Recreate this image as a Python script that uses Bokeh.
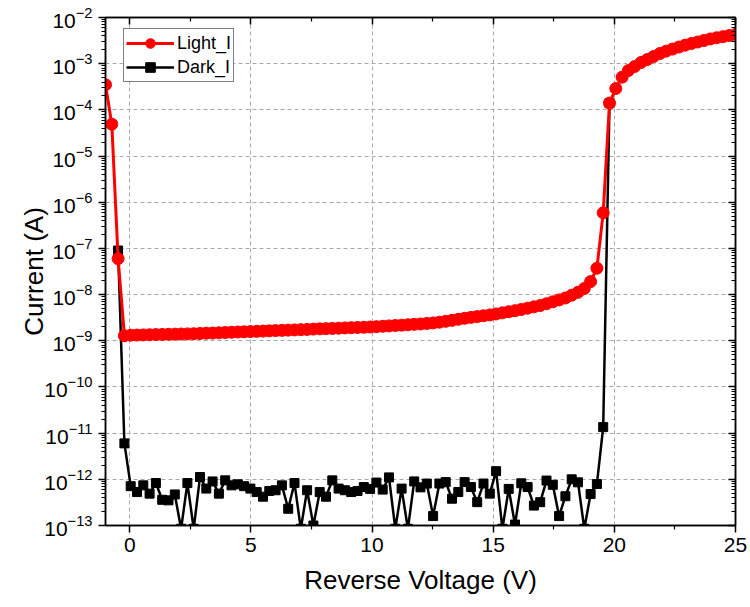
from bokeh.plotting import figure
from bokeh.models import (FixedTicker, LinearAxis, LogAxis, Legend, LegendItem,
                          ColumnDataSource, Range1d)
from bokeh.embed import file_html
from bokeh.resources import INLINE

NaN = float("nan")

# Reverse voltage (V)
voltage = [-1.0, -0.74, -0.48, -0.22, 0.04, 0.3, 0.56, 0.82, 1.08, 1.34,
           1.6, 1.86, 2.12, 2.38, 2.64, 2.9, 3.16, 3.42, 3.68, 3.94,
           4.2, 4.46, 4.72, 4.98, 5.24, 5.5, 5.76, 6.02, 6.28, 6.54,
           6.8, 7.06, 7.32, 7.58, 7.84, 8.1, 8.36, 8.62, 8.88, 9.14,
           9.4, 9.66, 9.92, 10.18, 10.44, 10.7, 10.96, 11.22, 11.48, 11.74,
           12.0, 12.26, 12.52, 12.78, 13.04, 13.3, 13.56, 13.82, 14.08, 14.34,
           14.6, 14.86, 15.12, 15.38, 15.64, 15.9, 16.16, 16.42, 16.68, 16.94,
           17.2, 17.46, 17.72, 17.98, 18.24, 18.5, 18.76, 19.02, 19.28, 19.54,
           19.8, 20.06, 20.32, 20.58, 20.84, 21.1, 21.36, 21.62, 21.88, 22.14,
           22.4, 22.66, 22.92, 23.18, 23.44, 23.7, 23.96, 24.22, 24.48, 24.74,
           25.0]

# Current under illumination (A)
light_I = [3.5e-4, 4.9e-5, 6.0e-8, 1.29e-9, 1.32e-9, 1.33e-9, 1.34e-9, 1.35e-9, 1.36e-9, 1.37e-9,
           1.38e-9, 1.39e-9, 1.40e-9, 1.41e-9, 1.42e-9, 1.44e-9, 1.46e-9, 1.47e-9, 1.49e-9, 1.51e-9,
           1.53e-9, 1.55e-9, 1.56e-9, 1.58e-9, 1.60e-9, 1.62e-9, 1.64e-9, 1.66e-9, 1.68e-9, 1.70e-9,
           1.72e-9, 1.74e-9, 1.76e-9, 1.79e-9, 1.81e-9, 1.83e-9, 1.85e-9, 1.87e-9, 1.90e-9, 1.92e-9,
           1.94e-9, 1.96e-9, 1.99e-9, 2.02e-9, 2.06e-9, 2.10e-9, 2.14e-9, 2.18e-9, 2.22e-9, 2.27e-9,
           2.31e-9, 2.37e-9, 2.44e-9, 2.53e-9, 2.64e-9, 2.77e-9, 2.92e-9, 3.06e-9, 3.21e-9, 3.34e-9,
           3.48e-9, 3.63e-9, 3.81e-9, 4.02e-9, 4.25e-9, 4.48e-9, 4.76e-9, 5.08e-9, 5.43e-9, 5.80e-9,
           6.34e-9, 6.98e-9, 7.67e-9, 8.45e-9, 9.72e-9, 1.12e-8, 1.35e-8, 1.91e-8, 3.72e-8, 5.9e-7,
           1.4e-4, 2.9e-4, 5.1e-4, 7.1e-4, 8.7e-4, 1.06e-3, 1.23e-3, 1.43e-3, 1.66e-3, 1.87e-3,
           2.07e-3, 2.29e-3, 2.52e-3, 2.74e-3, 2.95e-3, 3.18e-3, 3.43e-3, 3.64e-3, 3.85e-3, 4.07e-3,
           4.31e-3]

# Dark current (A); NaN where no dark point is visible (hidden by / outside the light curve)
dark_I = [NaN, NaN, 9.0e-8, 6.0e-12, 7.1e-13, 5.3e-13, 7.4e-13, 4.9e-13, 8.3e-13, 3.6e-13,
          3.5e-13, 4.7e-13, 8.5e-14, 8.3e-13, 8.5e-14, 1.12e-12, 6.3e-13, 9.0e-13, 4.9e-13, 9.5e-13,
          7.4e-13, 7.8e-13, 7.1e-13, 6.3e-13, 5.3e-13, 4.2e-13, 5.6e-13, 5.8e-13, 7.4e-13, 2.3e-13,
          8.3e-13, 8.5e-14, 5.8e-13, 1.0e-13, 5.3e-13, 4.2e-13, 9.5e-13, 6.3e-13, 5.8e-13, 5.3e-13,
          5.6e-13, 6.8e-13, 6.2e-13, 8.5e-13, 6.0e-13, 1.1e-12, 8.5e-14, 6.3e-13, 8.5e-14, 9.0e-13,
          6.7e-13, 8.1e-13, 1.6e-13, 8.1e-13, 8.7e-13, 3.8e-13, 5.3e-13, 8.7e-13, 6.8e-13, 3.2e-13,
          8.1e-13, 4.9e-13, 1.5e-12, 8.5e-14, 6.2e-13, 1.05e-13, 8.2e-13, 6.8e-13, 2.7e-13, 3.2e-13,
          9.4e-13, 7.6e-13, 1.6e-13, 4.3e-13, 1.0e-12, 8.6e-13, 8.5e-14, 4.8e-13, 7.9e-13, 1.35e-11,
          1.4e-4, NaN, NaN, NaN, NaN, NaN, NaN, NaN, NaN, NaN,
          NaN, NaN, NaN, NaN, NaN, NaN, NaN, NaN, NaN, NaN,
          NaN]

x_ticks = [0, 5, 10, 15, 20, 25]
y_ticks = [1e-13, 1e-12, 1e-11, 1e-10, 1e-9, 1e-8, 1e-7, 1e-6, 1e-5, 1e-4, 1e-3, 1e-2]

assert len(voltage) == len(light_I) == len(dark_I)

FONT = "Liberation Sans"

src = ColumnDataSource(dict(v=voltage, light=light_I, dark=dark_I))

p = figure(width=750, height=607, y_axis_type="log",
           x_range=Range1d(-1, 25), y_range=Range1d(1e-13, 1e-2),
           output_backend="svg", toolbar_location=None,
           min_border_left=105, min_border_right=15,
           min_border_top=17, min_border_bottom=82)
p.background_fill_color = "white"
p.border_fill_color = "white"
p.outline_line_color = "black"
p.outline_line_width = 1.5

minor_y = [k * 10.0 ** e for e in range(-13, -2) for k in range(2, 10)]
minor_x = [2.5, 7.5, 12.5, 17.5, 22.5]

xt = FixedTicker(ticks=x_ticks, minor_ticks=minor_x)
yt = FixedTicker(ticks=y_ticks, minor_ticks=minor_y)

# grids
p.xgrid.ticker = FixedTicker(ticks=x_ticks)
p.ygrid.ticker = FixedTicker(ticks=y_ticks)
for g in (p.xgrid, p.ygrid):
    g.grid_line_color = "#a8a8a8"
    g.grid_line_dash = "4 3"
    g.grid_line_width = 1

# main axes
xa = p.xaxis[0]
ya = p.yaxis[0]
xa.ticker = xt
ya.ticker = yt
for ax in (xa, ya):
    ax.axis_line_color = "black"
    ax.axis_line_width = 1.5
    ax.major_tick_line_width = 1.5
    ax.minor_tick_line_width = 1.2
    ax.major_tick_in = 0
    ax.major_tick_out = 7
    ax.minor_tick_in = 0
    ax.minor_tick_out = 4
    ax.major_label_text_font = FONT
    ax.major_label_text_font_size = "21px"
    ax.major_label_text_color = "black"
    ax.axis_label_text_font = FONT
    ax.axis_label_text_font_size = "26px"
    ax.axis_label_text_font_style = "normal"
    ax.axis_label_text_color = "black"
xa.axis_label = "Reverse Voltage (V)"
ya.axis_label = "Current (A)"
xa.major_label_standoff = 5
xa.axis_label_standoff = 10
ya.major_label_standoff = 6
ya.axis_label_standoff = -8

# mirrored axes (ticks inward, no labels)
top = LinearAxis(ticker=FixedTicker(ticks=x_ticks, minor_ticks=minor_x))
right = LogAxis(ticker=FixedTicker(ticks=y_ticks, minor_ticks=minor_y))
for ax in (top, right):
    ax.axis_line_color = "black"
    ax.axis_line_width = 1.5
    ax.major_tick_line_width = 1.5
    ax.minor_tick_line_width = 1.2
    ax.major_tick_in = 7
    ax.major_tick_out = 0
    ax.minor_tick_in = 4
    ax.minor_tick_out = 0
    ax.major_label_text_font_size = "0px"
    ax.major_label_text_color = None
    ax.major_label_standoff = 0
p.add_layout(top, "above")
p.add_layout(right, "right")

# data
dark_line = p.line("v", "dark", source=src, line_color="black", line_width=2.5)
dark_pts = p.scatter("v", "dark", source=src, marker="square", size=9,
                     fill_color="black", line_color="black")
light_line = p.line("v", "light", source=src, line_color="#ff0000", line_width=3)
light_pts = p.scatter("v", "light", source=src, marker="circle", size=12,
                      fill_color="#ff0000", line_color="#ff0000")

legend = Legend(items=[
    LegendItem(label="Light_I", renderers=[light_line, light_pts]),
    LegendItem(label="Dark_I", renderers=[dark_line, dark_pts]),
])
legend.location = (18, 443)
legend.margin = 0
legend.padding = 2
legend.spacing = 0
legend.glyph_width = 48
legend.glyph_height = 24
legend.label_height = 24
legend.label_standoff = 3
legend.label_text_font = FONT
legend.label_text_font_size = "18px"
legend.label_text_color = "black"
legend.border_line_color = "black"
legend.border_line_width = 1
legend.background_fill_color = "white"
legend.background_fill_alpha = 1
p.add_layout(legend, "center")

open("out.html", "w").write(file_html(p, INLINE))
